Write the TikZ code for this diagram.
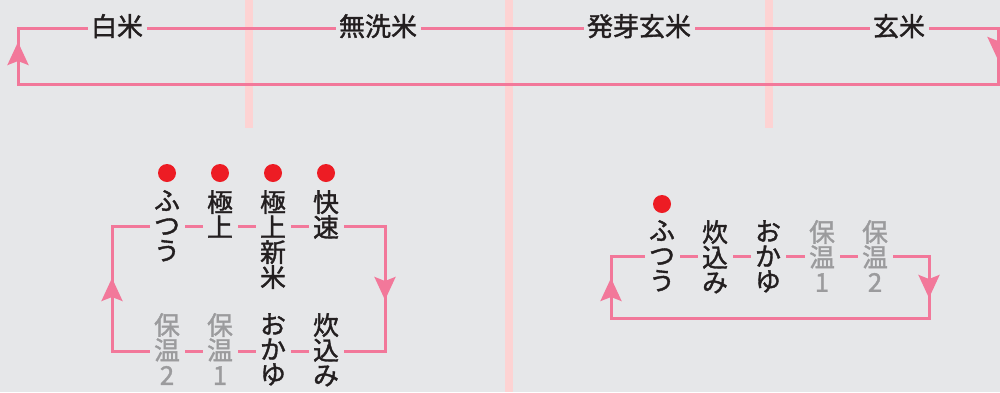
\documentclass[tikz,border=0pt]{standalone}
\usepackage{fontspec}
\newfontfamily\cjk[FakeBold=1.5]{Noto Sans CJK JP}
\usetikzlibrary{arrows.meta,decorations.markings}
\definecolor{bg}{HTML}{E6E7E9}
\definecolor{loopc}{HTML}{F2789A}
\definecolor{barc}{HTML}{FDD3D3}
\definecolor{dotc}{HTML}{ED1C24}
\definecolor{txt}{HTML}{231F20}
\definecolor{dim}{HTML}{9B9B9D}
\AtBeginDocument{\lineskiplimit=-30pt\relax}
\begin{document}
\begin{tikzpicture}[x=1pt,y=-1pt,
  loopline/.style={draw=loopc, line width=3pt},
  tipstyle/.style={color=loopc, line width=3pt},
  toplabel/.style={font=\cjk\fontsize{26}{26}\selectfont, text=txt, fill=bg, inner xsep=3.5pt, inner ysep=0pt, anchor=base},
  col/.style={font=\cjk\fontsize{25.8}{25}\selectfont, text=txt, fill=bg, inner sep=0pt, minimum width=35pt, align=center, anchor=north},
  dimcol/.style={col, text=dim},
  dot/.style={circle, fill=dotc, inner sep=0pt, minimum size=18pt},
  arrowat/.style={postaction={decorate}, decoration={markings, mark=at position #1 with {\arrow{Stealth[length=23pt,width=21pt,inset=4pt]}}}},
]
\useasboundingbox (0,0) rectangle (1000,392);
\fill[bg] (0,0) rectangle (1000,392);
% light divider bars
\fill[barc] (245,0) rectangle (252.5,128);
\fill[barc] (505,0) rectangle (512.5,392);
\fill[barc] (765,0) rectangle (772.5,128);

% top loop
\coordinate (t1) at (18,28);
\coordinate (t2) at (998,28);
\coordinate (t3) at (998,84);
\coordinate (t4) at (18,84);
\draw[loopline] (t1) -- (t2) -- (t3) -- (t4) -- cycle;
\path[tipstyle, arrowat=32pt] (t2) -- (t3);
\path[tipstyle, arrowat=42pt] (t4) -- (t1);
\node[toplabel] (w1) at (117,36) {白米};
\node[toplabel] (w2) at (378,36) {無洗米};
\node[toplabel] (w3) at (639,36) {発芽玄米};
\node[toplabel] (w4) at (899,36) {玄米};

% left lower loop
\coordinate (a1) at (112,226);
\coordinate (a2) at (385,226);
\coordinate (a3) at (385,351);
\coordinate (a4) at (112,351);
\draw[loopline] (a1) -- (a2) -- (a3) -- (a4) -- cycle;
\path[tipstyle, arrowat=74pt] (a2) -- (a3);
\path[tipstyle, arrowat=73pt] (a4) -- (a1);
\node[col] (p1) at (167,190) {ふ\\つ\\う};
\node[col] (p2) at (220,190) {極\\上};
\node[col] (p3) at (273,190) {極\\上\\新\\米};
\node[col] (p4) at (326,190) {快\\速};
\node[dimcol] (q1) at (167,313) {保\\温\\2};
\node[dimcol] (q2) at (220,313) {保\\温\\1};
\node[col] (q3) at (273,313) {お\\か\\ゆ};
\node[col] (q4) at (326,313) {炊\\込\\み};
\node[dot] (d1) at (167,173) {};
\node[dot] (d2) at (220,173) {};
\node[dot] (d3) at (273,173) {};
\node[dot] (d4) at (326,173) {};

% right loop
\coordinate (b1) at (611,256);
\coordinate (b2) at (929,256);
\coordinate (b3) at (929,318);
\coordinate (b4) at (611,318);
\draw[loopline] (b1) -- (b2) -- (b3) -- (b4) -- cycle;
\path[tipstyle, arrowat=42pt] (b2) -- (b3);
\path[tipstyle, arrowat=40pt] (b4) -- (b1);
\node[col] (r1) at (662,220) {ふ\\つ\\う};
\node[col] (r2) at (715,220) {炊\\込\\み};
\node[col] (r3) at (768,220) {お\\か\\ゆ};
\node[dimcol] (r4) at (822,220) {保\\温\\1};
\node[dimcol] (r5) at (875,220) {保\\温\\2};
\node[dot] (d5) at (662,204) {};
\end{tikzpicture}
\end{document}
